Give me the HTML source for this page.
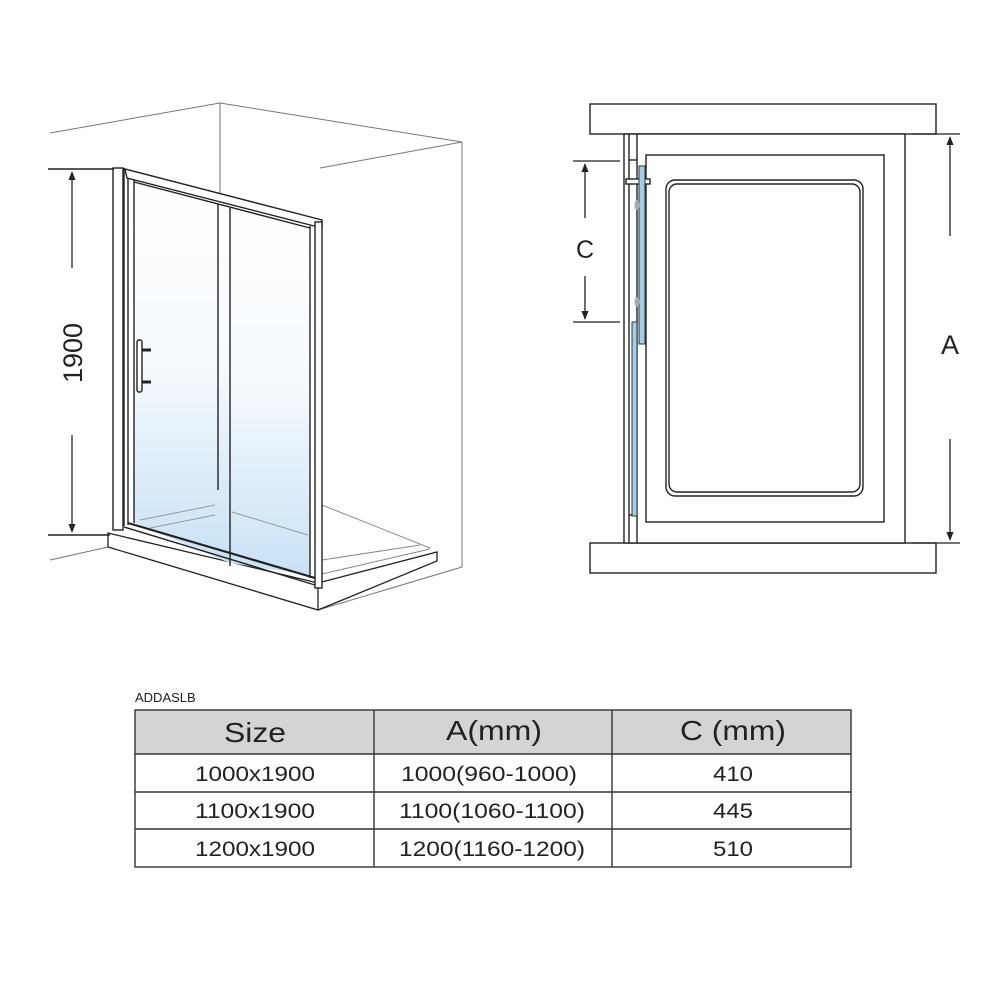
<!DOCTYPE html>
<html><head><meta charset="utf-8"><style>
html,body{margin:0;padding:0;background:#fff;}
svg{display:block}
text{font-family:"Liberation Sans",sans-serif;fill:#222}
</style></head><body>
<svg width="1000" height="1000" viewBox="0 0 1000 1000" xmlns="http://www.w3.org/2000/svg">
<defs>
<linearGradient id="g" x1="0" y1="0" x2="0" y2="1">
<stop offset="0" stop-color="#ffffff"/><stop offset="0.5" stop-color="#f5f9fd"/><stop offset="1" stop-color="#c8e2f5"/>
</linearGradient>
<marker id="ar" viewBox="0 0 10 10" refX="9" refY="5" markerWidth="7" markerHeight="7" orient="auto-start-reverse"><path d="M0,1 L10,5 L0,9z" fill="#222"/></marker>
</defs>

<g fill="none" stroke="#777" stroke-width="1">
<line x1="50" y1="133" x2="220" y2="103"/>
<line x1="220" y1="103" x2="462" y2="142"/>
<line x1="462" y1="142" x2="462" y2="567"/>
<line x1="320" y1="168" x2="462" y2="142"/>
<line x1="220" y1="103" x2="220" y2="200"/>
<line x1="50" y1="560" x2="108" y2="547"/>
<line x1="318" y1="610" x2="462" y2="567"/>
</g>
<g fill="#fff" stroke="#222" stroke-width="1.3">
<polygon points="108,533 318,583 437,552 437,561 318,610 108,547"/>
<line x1="318" y1="583" x2="318" y2="610"/>
</g>
<g fill="none" stroke="#888" stroke-width="1">
<line x1="322" y1="574" x2="430" y2="549"/>
<line x1="322" y1="560" x2="420" y2="545"/>
<line x1="322" y1="505" x2="430" y2="548"/>
</g>
<polygon points="134,180 230,205 230,563 134,523" fill="url(#g)"/>
<polygon points="230,206 310,226 310,575 230,563" fill="url(#g)"/>
<g fill="none" stroke="#999" stroke-width="1">
<line x1="140" y1="520" x2="215" y2="505"/><line x1="150" y1="528" x2="215" y2="515"/>
<line x1="232" y1="512" x2="308" y2="535"/>
</g>
<g fill="none" stroke="#222" stroke-width="1.4">
<rect x="113" y="168" width="10" height="362" fill="#fff"/>
<line x1="48" y1="169" x2="114" y2="169"/>
<line x1="48" y1="535" x2="110" y2="535"/>
<line x1="124" y1="168" x2="124" y2="526"/>
<line x1="128" y1="172" x2="128" y2="525"/>
<line x1="134" y1="180" x2="134" y2="523"/>
<polygon points="125,169 322,220 322,228 127,178" fill="#fff"/>
<line x1="134" y1="182" x2="310" y2="228"/>
<line x1="218" y1="204" x2="218" y2="490"/>
<line x1="230" y1="208" x2="230" y2="566"/>
<rect x="315" y="222" width="7" height="366" fill="#fff"/>
<line x1="310" y1="226" x2="310" y2="578"/>
<line x1="128" y1="523" x2="315" y2="578" stroke-width="2.2"/>
<line x1="124" y1="527" x2="315" y2="585"/>
<rect x="137" y="340" width="5" height="52" rx="2" fill="#fff"/>
<line x1="142" y1="350" x2="151" y2="350" stroke-width="3"/>
<line x1="142" y1="382" x2="151" y2="382" stroke-width="3"/>
</g>
<line x1="72" y1="268" x2="72" y2="172" stroke="#222" stroke-width="1.3" marker-end="url(#ar)"/>
<line x1="72" y1="435" x2="72" y2="532" stroke="#222" stroke-width="1.3" marker-end="url(#ar)"/>
<text x="0" y="0" font-size="27" text-anchor="middle" transform="translate(82,353) rotate(-90)">1900</text>

<g fill="#fff" stroke="#222" stroke-width="1.4">
<rect x="590" y="104" width="346" height="30"/>
<rect x="590" y="543" width="346" height="30"/>
<rect x="624" y="134" width="281" height="409"/>
<rect x="646" y="155" width="238" height="367"/>
<rect x="666" y="180" width="197" height="316" rx="9"/>
<rect x="669" y="184" width="191" height="308" rx="8"/>
<line x1="637" y1="134" x2="637" y2="543"/>
<line x1="629" y1="134" x2="629" y2="543"/>
<line x1="629" y1="160" x2="637" y2="160"/>
<line x1="629" y1="515" x2="637" y2="515"/>
<rect x="626" y="179" width="24" height="5"/>
</g>
<rect x="639" y="166" width="6" height="178" fill="#9fd0ea" stroke="#333" stroke-width="1"/>
<rect x="632" y="322" width="5" height="194" fill="#9fd0ea" stroke="#333" stroke-width="1"/>
<ellipse cx="637" cy="205" rx="2.5" ry="5" fill="#aaa"/>
<ellipse cx="637" cy="302" rx="2.5" ry="5" fill="#aaa"/>
<g stroke="#222" stroke-width="1.3">
<line x1="573" y1="161" x2="620" y2="161"/>
<line x1="573" y1="322" x2="620" y2="322"/>
<line x1="912" y1="134" x2="960" y2="134"/>
<line x1="912" y1="543" x2="960" y2="543"/>
</g>
<line x1="585" y1="218" x2="585" y2="164" stroke="#222" stroke-width="1.3" marker-end="url(#ar)"/>
<line x1="585" y1="276" x2="585" y2="319" stroke="#222" stroke-width="1.3" marker-end="url(#ar)"/>
<line x1="950" y1="236" x2="950" y2="137" stroke="#222" stroke-width="1.3" marker-end="url(#ar)"/>
<line x1="950" y1="439" x2="950" y2="540" stroke="#222" stroke-width="1.3" marker-end="url(#ar)"/>
<text x="585" y="258" font-size="25" text-anchor="middle">C</text>
<text x="950" y="354" font-size="27" text-anchor="middle">A</text>

<text x="135" y="702" font-size="13">ADDASLB</text>
<rect x="135" y="710" width="716" height="44" fill="#d4d4d4"/>
<g fill="none" stroke="#333" stroke-width="1.4">
<rect x="135" y="710" width="716" height="157"/>
<line x1="135" y1="754" x2="851" y2="754"/>
<line x1="135" y1="792" x2="851" y2="792"/>
<line x1="135" y1="829" x2="851" y2="829"/>
<line x1="374" y1="710" x2="374" y2="867"/>
<line x1="612" y1="710" x2="612" y2="867"/>
</g>
<g font-size="28" text-anchor="middle">
<text x="255" y="742" textLength="62" lengthAdjust="spacingAndGlyphs">Size</text>
<text x="494" y="740" textLength="96" lengthAdjust="spacingAndGlyphs">A(mm)</text>
<text x="733" y="740" textLength="106" lengthAdjust="spacingAndGlyphs">C (mm)</text>
</g>
<g font-size="21" text-anchor="middle">
<text x="255" y="781" textLength="120" lengthAdjust="spacingAndGlyphs">1000x1900</text>
<text x="489" y="781" textLength="176" lengthAdjust="spacingAndGlyphs">1000(960-1000)</text>
<text x="733" y="781" textLength="40" lengthAdjust="spacingAndGlyphs">410</text>
<text x="255" y="818" textLength="120" lengthAdjust="spacingAndGlyphs">1100x1900</text>
<text x="492" y="818" textLength="186" lengthAdjust="spacingAndGlyphs">1100(1060-1100)</text>
<text x="733" y="818" textLength="40" lengthAdjust="spacingAndGlyphs">445</text>
<text x="255" y="856" textLength="120" lengthAdjust="spacingAndGlyphs">1200x1900</text>
<text x="492" y="856" textLength="186" lengthAdjust="spacingAndGlyphs">1200(1160-1200)</text>
<text x="733" y="856" textLength="40" lengthAdjust="spacingAndGlyphs">510</text>
</g>
</svg>
</body></html>
